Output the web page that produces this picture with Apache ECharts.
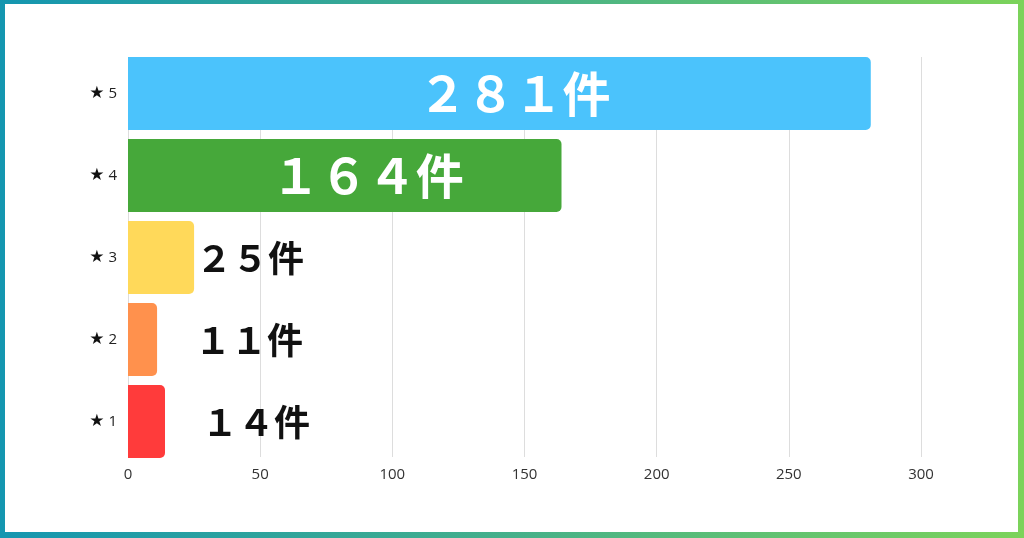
<!DOCTYPE html>
<html>
<head>
<meta charset="utf-8">
<script src="https://cdn.jsdelivr.net/npm/echarts@6/dist/echarts.min.js"></script>
<style>
html,body{margin:0;padding:0;width:1024px;height:538px;overflow:hidden;}
#frame{position:absolute;left:0;top:0;width:1024px;height:538px;background:linear-gradient(to right,#1496b0,#45b08a 50%,#7cd35a);}
#inner{position:absolute;left:5px;top:4px;right:6px;bottom:6px;background:#fff;}
#chart{position:absolute;left:0;top:0;width:1024px;height:538px;}
</style>
</head>
<body>
<div id="frame"><div id="inner"></div></div>
<div id="chart"></div>
<script>
var categories = ['★ 1', '★ 2', '★ 3', '★ 4', '★ 5'];
var values = [14, 11, 25, 164, 281];
var valueLabels = ['１４件', '１１件', '２５件', '１６４件', '２８１件'];
var xTicks = [0, 50, 100, 150, 200, 250, 300];

var colors = ['#ff3b3b', '#ff914d', '#ffd95a', '#46a83a', '#4bc3fc'];
var labelStyles = [
  {position: 'right', distance: 37, color: '#111', fontSize: 36, offset: [0, 1]},
  {position: 'right', distance: 38, color: '#111', fontSize: 36, offset: [0, 1]},
  {position: 'right', distance: 2, color: '#111', fontSize: 36, offset: [0, 1]},
  {position: 'inside', offset: [23, 0], color: '#fff', fontSize: 48},
  {position: 'inside', offset: [15, 0], color: '#fff', fontSize: 48}
];

var data = values.map(function (v, i) {
  var ls = labelStyles[i];
  return {
    value: v,
    itemStyle: {color: colors[i]},
    label: Object.assign({
      show: true,
      formatter: valueLabels[i],
      fontFamily: 'Noto Sans CJK JP',
      fontWeight: 'bold'
    }, ls)
  };
});

var chart = echarts.init(document.getElementById('chart'), null, {renderer: 'canvas'});
chart.setOption({
  backgroundColor: 'transparent',
  animation: false,
  grid: [
    {left: 128, right: 103, top: 52.5, height: 410},
    {left: 128, right: 103, top: 57, height: 400}
  ],
  xAxis: [
    {type: 'value', gridIndex: 0, min: 0, max: 300, interval: 50,
     axisLine: {show: false}, axisTick: {show: false}, axisLabel: {show: false}, splitLine: {show: false}},
    {type: 'value', gridIndex: 1, min: xTicks[0], max: xTicks[xTicks.length - 1], interval: xTicks[1] - xTicks[0],
     axisLine: {show: false}, axisTick: {show: false},
     axisLabel: {color: '#333', fontSize: 15, margin: 10, fontFamily: 'Open Sans'},
     splitLine: {show: true, lineStyle: {color: '#dddddd', width: 1}}}
  ],
  yAxis: [
    {type: 'category', gridIndex: 0, data: categories,
     axisLine: {show: false}, axisTick: {show: false},
     axisLabel: {
       margin: 11,
       formatter: function (v) {
         var parts = v.split(' ');
         return '{s|' + parts[0] + '}{n|' + parts[1] + '}';
       },
       rich: {
         s: {fontSize: 17, color: '#111', fontFamily: 'DejaVu Sans', padding: [0, 4, 0, 0]},
         n: {fontSize: 15, color: '#222', fontFamily: 'Open Sans'}
       }
     }},
    {type: 'category', gridIndex: 1, data: categories, show: false}
  ],
  series: [{
    type: 'bar',
    xAxisIndex: 0,
    yAxisIndex: 0,
    data: data,
    barCategoryGap: '11%',
    itemStyle: {borderRadius: [0, 5, 5, 0]}
  }]
});
</script>
</body>
</html>
